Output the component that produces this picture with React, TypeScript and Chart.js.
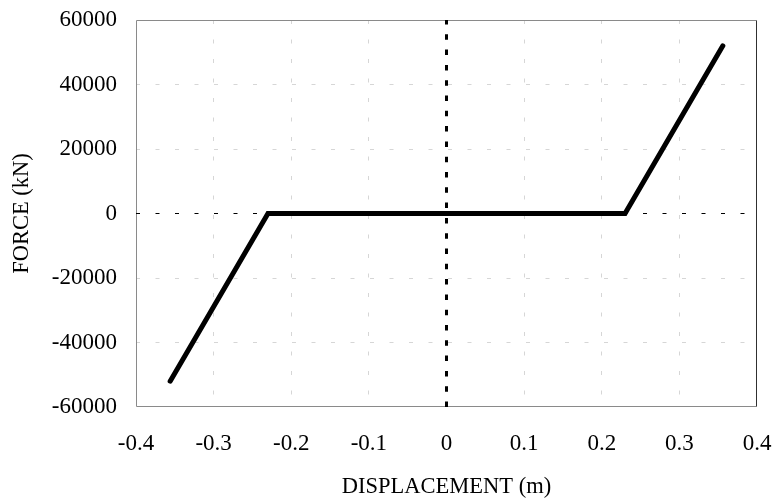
import React, { useEffect, useRef } from "react";
import { Chart, registerables } from "chart.js";

Chart.register(...registerables);

// Data
const displacement = [-0.356, -0.23, 0.23, 0.356];
const force = [-52000, 0, 0, 52000];

const xTicks = [-0.4, -0.3, -0.2, -0.1, 0, 0.1, 0.2, 0.3, 0.4];
const xTickLabels = ["-0.4", "-0.3", "-0.2", "-0.1", "0", "0.1", "0.2", "0.3", "0.4"];
const yTicks = [-60000, -40000, -20000, 0, 20000, 40000, 60000];
const yTickLabels = ["-60000", "-40000", "-20000", "0", "20000", "40000", "60000"];

const zeroLineX = [-0.4, 0.4];
const zeroLineY = [-60000, 60000];

const FONT = "'Liberation Serif', 'Times New Roman', serif";

const framePlugin = {
  id: "frame",
  beforeDatasetsDraw(chart: any) {
    const { ctx, chartArea } = chart;
    const { left, right, top, bottom } = chartArea;
    const l = Math.round(left) + 0.5;
    const r = Math.round(right) - 0.5;
    const t = Math.round(top) + 0.5;
    const b = Math.round(bottom) - 0.5;
    ctx.save();
    ctx.lineWidth = 1;
    ctx.strokeStyle = "#8a8a8a";
    ctx.beginPath();
    ctx.moveTo(r, t);
    ctx.lineTo(l, t);
    ctx.lineTo(l, b);
    ctx.lineTo(r, b);
    ctx.stroke();
    ctx.strokeStyle = "#303030";
    ctx.beginPath();
    ctx.moveTo(r, t);
    ctx.lineTo(r, b);
    ctx.stroke();
    ctx.restore();
  },
};

const zeroPadding = (s: any) => {
  s.paddingTop = 0;
  s.paddingBottom = 0;
  s.paddingLeft = 0;
  s.paddingRight = 0;
};

export default function App() {
  const ref = useRef<HTMLCanvasElement | null>(null);

  useEffect(() => {
    document.body.style.margin = "0";
    const canvas = ref.current;
    if (!canvas) return;

    const gridColor = (values: number[]) => (c: any) => {
      const v = c.tick ? c.tick.value : null;
      if (v === null) return "transparent";
      if (v === 0 || v === values[0] || v === values[values.length - 1]) return "transparent";
      return "#d6d6d6";
    };

    const chart = new Chart(canvas, {
      type: "scatter",
      data: {
        datasets: [
          {
            label: "zeroX",
            data: zeroLineX.map((x) => ({ x, y: 0 })),
            showLine: true,
            borderColor: "#000",
            borderWidth: 1,
            borderDash: [4, 15.5],
            pointRadius: 0,
            order: 3,
          },
          {
            label: "Force",
            data: displacement.map((x, i) => ({ x, y: force[i] })),
            showLine: true,
            borderColor: "#000",
            borderWidth: 5,
            borderCapStyle: "round",
            borderJoinStyle: "miter",
            pointRadius: 0,
            order: 2,
          },
          {
            label: "zeroY",
            data: zeroLineY.map((y) => ({ x: 0, y })),
            showLine: true,
            borderColor: "#000",
            borderWidth: 3,
            borderDash: [5.5, 9.8],
            pointRadius: 0,
            order: 1,
          },
        ],
      },
      options: {
        responsive: false,
        animation: false,
        events: [],
        layout: { padding: { left: 0, right: 19, top: 20, bottom: 0 } },
        plugins: {
          legend: { display: false },
          tooltip: { enabled: false },
        },
        scales: {
          x: {
            type: "linear",
            min: -0.4,
            max: 0.4,
            afterBuildTicks: (s: any) => {
              s.ticks = xTicks.map((v) => ({ value: v }));
            },
            afterFit: (s: any) => {
              s.height = 97;
              zeroPadding(s);
            },
            ticks: {
              callback: (_v: any, i: number) => xTickLabels[i],
              color: "#000",
              font: { family: FONT, size: 23 },
              padding: 23,
              maxRotation: 0,
              autoSkip: false,
            },
            grid: { color: gridColor(xTicks), lineWidth: 1, drawTicks: false },
            border: { display: false, dash: [4, 15.5] },
            title: {
              display: true,
              text: "DISPLACEMENT (m)",
              color: "#000",
              font: { family: FONT, size: 22.5 },
              padding: { top: 0, bottom: 3 },
            },
          },
          y: {
            type: "linear",
            min: -60000,
            max: 60000,
            afterBuildTicks: (s: any) => {
              s.ticks = yTicks.map((v) => ({ value: v }));
            },
            afterFit: (s: any) => {
              s.width = 136;
              zeroPadding(s);
            },
            ticks: {
              callback: (_v: any, i: number) => yTickLabels[i],
              color: "#000",
              font: { family: FONT, size: 23 },
              padding: 19,
              autoSkip: false,
            },
            grid: { color: gridColor(yTicks), lineWidth: 1, drawTicks: false },
            border: { display: false, dash: [4, 15.5] },
            title: {
              display: true,
              text: "FORCE (kN)",
              color: "#000",
              font: { family: FONT, size: 22.5 },
              padding: { top: 9, bottom: 0 },
            },
          },
        },
      },
      plugins: [framePlugin],
    } as any);

    return () => chart.destroy();
  }, []);

  return (
    <div style={{ width: 776, height: 504 }}>
      <canvas ref={ref} width={776} height={504} style={{ display: "block" }} />
    </div>
  );
}
